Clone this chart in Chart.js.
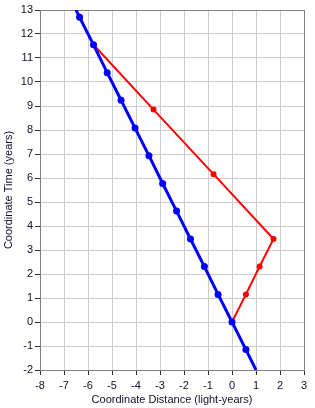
<!DOCTYPE html>
<html>
<head>
<meta charset="utf-8">
<script src="https://cdn.jsdelivr.net/npm/chart.js@4"></script>
<style>
  html, body { margin: 0; padding: 0; background: #fff; }
  #wrap { width: 315px; height: 408px; position: relative; }
</style>
</head>
<body>
<div id="wrap"><canvas id="stChart"></canvas></div>
<script>
// world line of the traveller staying put (moving at -0.5c in this frame)
const blueX = [1.0, 0.58, 0, -0.58, -1.15, -1.73, -2.31, -2.89, -3.46, -4.04, -4.62, -5.2, -5.77, -6.35, -6.5];
const blueT = [-2, -1.15, 0, 1.15, 2.31, 3.46, 4.62, 5.77, 6.93, 8.08, 9.24, 10.39, 11.55, 12.7, 13];
const blueMarks = [0, 1, 1, 1, 1, 1, 1, 1, 1, 1, 1, 1, 1, 1, 0];

// out-and-back trip
const redX = [0, 0.58, 1.15, 1.73, -0.77, -3.27, -5.77];
const redT = [0, 1.15, 2.31, 3.46, 6.16, 8.85, 11.55];

const xMin = -8, xMax = 3;
const tMin = -2, tMax = 13;

const blueData = blueX.map((x, i) => ({ x: x, y: blueT[i] }));
const redData = redX.map((x, i) => ({ x: x, y: redT[i] }));

const textColor = '#10102a';
const font = { family: '"Liberation Sans", Arial, sans-serif', size: 11 };

// grey frame round the plot area
const frame = {
  id: 'frame',
  beforeDatasetsDraw(chart) {
    const a = chart.chartArea, ctx = chart.ctx;
    ctx.save();
    ctx.strokeStyle = '#808080';
    ctx.lineWidth = 1;
    ctx.strokeRect(a.left + 0.5, a.top + 0.5, a.right - a.left, a.bottom - a.top);
    ctx.restore();
  }
};

new Chart(document.getElementById('stChart').getContext('2d'), {
  type: 'scatter',
  data: {
    datasets: [
      {
        data: blueData,
        showLine: true,
        borderColor: '#0000ff',
        backgroundColor: '#0000ff',
        borderWidth: 3,
        pointRadius: blueMarks.map(m => m ? 3.5 : 0),
        pointBorderWidth: 0,
        tension: 0
      },
      {
        data: redData,
        showLine: true,
        borderColor: '#ff0000',
        backgroundColor: '#ff0000',
        borderWidth: 2,
        pointRadius: 3,
        pointBorderWidth: 0,
        tension: 0
      }
    ]
  },
  options: {
    responsive: true,
    maintainAspectRatio: false,
    animation: false,
    layout: { padding: { top: 10, right: 11, bottom: 0, left: 0 } },
    plugins: { legend: { display: false }, tooltip: { enabled: false } },
    scales: {
      x: {
        type: 'linear',
        min: xMin,
        max: xMax,
        afterFit: s => { s.height = 38; },
        ticks: { stepSize: 1, color: textColor, font: font, padding: 4, maxRotation: 0 },
        grid: { color: '#cccccc', tickColor: '#333333', tickLength: 5 },
        border: { color: '#808080' },
        title: { display: true, text: 'Coordinate Distance (light-years)', color: textColor, font: font, padding: { top: 0, bottom: 1 } }
      },
      y: {
        type: 'linear',
        min: tMin,
        max: tMax,
        afterFit: s => { s.width = 40; },
        ticks: { stepSize: 1, color: textColor, font: font, padding: 2 },
        grid: { color: '#cccccc', tickColor: '#333333', tickLength: 5 },
        border: { color: '#808080' },
        title: { display: true, text: 'Coordinate Time (years)', color: textColor, font: font, padding: { top: 2, bottom: 0 } }
      }
    }
  },
  plugins: [frame]
});
</script>
</body>
</html>
